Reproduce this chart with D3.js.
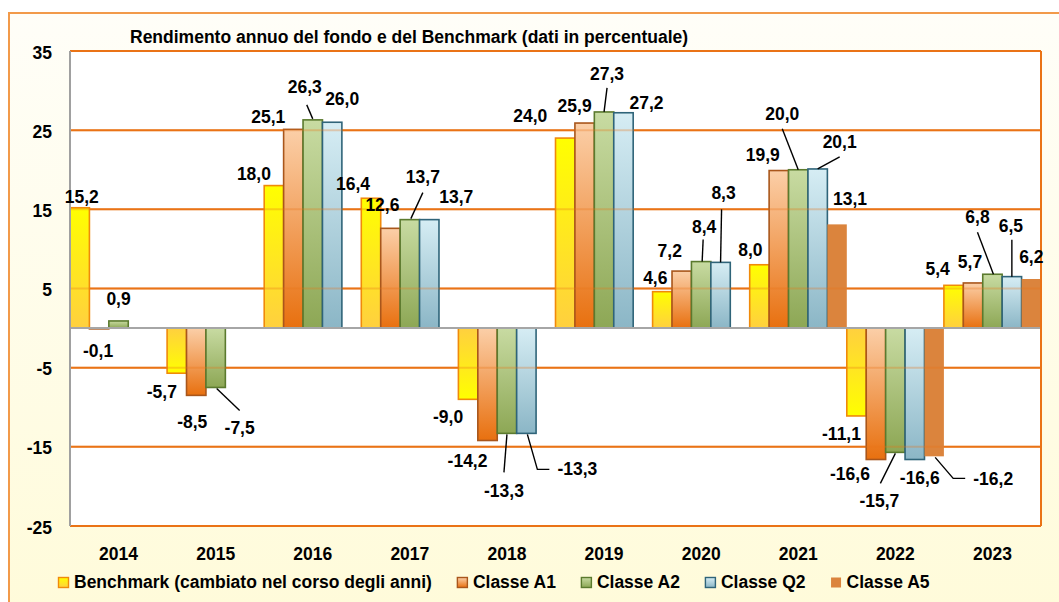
<!DOCTYPE html>
<html>
<head>
<meta charset="utf-8">
<script src="https://cdn.jsdelivr.net/npm/d3@7"></script>
<style>
  body { margin: 0; background: #ffffff; }
  svg text { font-family: "Liberation Sans", Arial, sans-serif; font-weight: bold; fill: #000; }
</style>
</head>
<body>
<div id="chart"></div>
<script>
// chart data
var years = ["2014", "2015", "2016", "2017", "2018", "2019", "2020", "2021", "2022", "2023"];
var benchmark = [15.2, -5.7, 18.0, 16.4, -9.0, 24.0, 4.6, 8.0, -11.1, 5.4];
var classeA1 = [-0.1, -8.5, 25.1, 12.6, -14.2, 25.9, 7.2, 19.9, -16.6, 5.7];
var classeA2 = [0.9, -7.5, 26.3, 13.7, -13.3, 27.3, 8.4, 20.0, -15.7, 6.8];
var classeQ2 = [null, null, 26.0, 13.7, -13.3, 27.2, 8.3, 20.1, -16.6, 6.5];
var classeA5 = [null, null, null, null, null, null, null, 13.1, -16.2, 6.2];
var seriesNames = ["Benchmark (cambiato nel corso degli anni)", "Classe A1", "Classe A2", "Classe Q2", "Classe A5"];
var yTicks = [-25, -15, -5, 5, 15, 25, 35];
var title = "Rendimento annuo del fondo e del Benchmark (dati in percentuale)";

var seriesValues = [benchmark, classeA1, classeA2, classeQ2, classeA5];

// manual label nudges (dx, dy from the bar end) and leader lines, like the moved labels in the original
var labelNudge = [
  [[2,-5],[-15,25],[-20,-6],[-18,-8],[-20,24],[-35,-16],[-7,-8],[-9,-9],[-15,24],[-16,-10]],
  [[-1,28],[-4,33],[-25,-6],[-8,-17],[-20,26],[-10,-11],[-12,-14],[-16,-10],[-26,20],[-3,-15]],
  [[0,-16],[24,47,[[1,1],[24,23]]],[-8,-27,[[0,-1],[-6,-15]]],[13,-37,[[1,-1],[13,-27]]],[-3,64,[[0,1],[-3,39]]],
   [3,-32,[[0,0],[3,-24]]],[3,-29,[[1,0],[2,-22]]],[-16,-50,[[0,0],[-16,-41]]],[-16,55,[[0,1],[-15,31]]],[-15,-51,[[1,0],[-15,-42]]]],
  [null,null,[10,-17],[27,-17],[51,42,[[1,1],[11,36],[23,36]]],[23,-4],[3,-63,[[0,0],[1,-53]]],[22,-21,[[0,0],[22,-12]]],[5,24],[-1,-45,[[0,0],[0,-37]]]],
  [null,null,null,null,null,null,null,[13,-19],[59,29,[[1,1],[19,22],[31,22]]],[0,-16]]
];

var W = 1059, H = 602;
var margin = { top: 51, right: 18, bottom: 76, left: 70 };
var width = W - margin.left - margin.right;
var height = H - margin.top - margin.bottom;

var locale = d3.formatLocale({ decimal: ",", thousands: ".", grouping: [3], currency: ["", "€"], minus: "-" });
var fmt = locale.format(".1f");
var fmtTick = locale.format("d");

var svg = d3.select("#chart").append("svg")
  .attr("width", W)
  .attr("height", H);

var defs = svg.append("defs");

function addGrad(id, c1, c2) {
  var g = defs.append("linearGradient").attr("id", id)
    .attr("x1", 0).attr("y1", 0).attr("x2", 0).attr("y2", 1);
  g.append("stop").attr("offset", "0%").attr("stop-color", c1);
  g.append("stop").attr("offset", "100%").attr("stop-color", c2);
}
addGrad("bg", "#fffef8", "#fffbd9");
addGrad("benchPos", "#ffff00", "#ffd03f");
addGrad("benchNeg", "#ffd03f", "#ffff00");
addGrad("a1", "#fbcfa8", "#e8700f");
addGrad("a2", "#c8dba2", "#8da755");
addGrad("q2", "#d6edf4", "#8bb6c6");

var strokes = ["#f08a0a", "#a9561b", "#5b7a2e", "#2f6479", "none"];
function fillFor(s, v) {
  if (s === 0) return v >= 0 ? "url(#benchPos)" : "url(#benchNeg)";
  if (s === 1) return "url(#a1)";
  if (s === 2) return "url(#a2)";
  if (s === 3) return "url(#q2)";
  return "#db843d";
}

// outer frame
svg.append("rect")
  .attr("x", 9).attr("y", 13)
  .attr("width", W + 10).attr("height", H + 10)
  .attr("fill", "url(#bg)")
  .attr("stroke", "#f29a4a")
  .attr("stroke-width", 2);

svg.append("text")
  .attr("x", 130).attr("y", 43)
  .style("font-size", "17.5px")
  .text(title);

var g = svg.append("g")
  .attr("transform", "translate(" + margin.left + "," + margin.top + ")");

// scales
var x0 = d3.scaleBand().domain(years).range([0, width]).padding(0);
var x1 = d3.scaleBand().domain(d3.range(5)).range([0, x0.bandwidth()]).padding(0);
var y = d3.scaleLinear().domain([-25, 35]).range([height, 0]);

g.append("rect")
  .attr("width", width).attr("height", height)
  .attr("fill", "#ffffff");

function drawGrid(op) {
  g.append("g").selectAll("line")
    .data(yTicks)
    .enter().append("line")
    .attr("x1", 0).attr("x2", width)
    .attr("y1", function (d) { return y(d); })
    .attr("y2", function (d) { return y(d); })
    .attr("stroke", "#ea7316")
    .attr("stroke-width", 2)
    .attr("opacity", op);
}
drawGrid(1);

// bars
var bars = [];
seriesValues.forEach(function (vals, s) {
  vals.forEach(function (v, i) {
    if (v === null) return;
    bars.push({ s: s, i: i, v: v });
  });
});

g.append("g").selectAll("rect")
  .data(bars)
  .enter().append("rect")
  .attr("x", function (d) { return x0(years[d.i]) + x1(d.s); })
  .attr("width", x1.bandwidth())
  .attr("y", function (d) { return Math.min(y(d.v), y(0)); })
  .attr("height", function (d) { return Math.abs(y(d.v) - y(0)); })
  .attr("fill", function (d) { return fillFor(d.s, d.v); })
  .attr("stroke", function (d) { return strokes[d.s]; })
  .attr("stroke-width", 1.6);

// gridlines show faintly through the bars
drawGrid(0.3);

// zero line and frame of the plot
g.append("line")
  .attr("x1", 0).attr("x2", width)
  .attr("y1", y(0)).attr("y2", y(0))
  .attr("stroke", "#a6a6a6").attr("stroke-width", 2);
g.append("line")
  .attr("x1", width).attr("x2", width)
  .attr("y1", 0).attr("y2", height)
  .attr("stroke", "#ea7316").attr("stroke-width", 2);
g.append("line")
  .attr("x1", 0).attr("x2", 0)
  .attr("y1", 0).attr("y2", height)
  .attr("stroke", "#a0a0a0").attr("stroke-width", 2);

// axes
var yAxis = g.append("g")
  .call(d3.axisLeft(y).tickValues(yTicks).tickSize(0).tickPadding(18).tickFormat(fmtTick));
yAxis.select(".domain").remove();
yAxis.selectAll("text")
  .attr("dy", "0.4em")
  .style("font-size", "17.5px");

var xAxis = g.append("g")
  .attr("transform", "translate(0," + height + ")")
  .call(d3.axisBottom(x0).tickSize(0));
xAxis.select(".domain").remove();
xAxis.selectAll("text")
  .attr("y", 34).attr("dy", null)
  .style("font-size", "17.5px");
yAxis.attr("font-family", null).attr("font-size", null);
xAxis.attr("font-family", null).attr("font-size", null);

// data labels
var labelG = g.append("g");
bars.forEach(function (d) {
  var n = labelNudge[d.s][d.i];
  var cx = x0(years[d.i]) + x1(d.s) + x1.bandwidth() / 2;
  var ey = y(d.v);
  if (n[2]) {
    var pts = n[2].map(function (p) { return [cx + p[0], ey + p[1]]; });
    labelG.append("path")
      .attr("d", d3.line()(pts))
      .attr("fill", "none")
      .attr("stroke", "#000")
      .attr("stroke-width", 1.4);
  }
  labelG.append("text")
    .attr("x", cx + n[0])
    .attr("y", ey + n[1])
    .attr("text-anchor", "middle")
    .style("font-size", "17.5px")
    .text(fmt(d.v));
});

// legend
var legend = svg.append("g").attr("transform", "translate(58,588)");
var lx = 0;
seriesNames.forEach(function (name, s) {
  legend.append("rect")
    .attr("x", lx + 0.5).attr("y", -10.5)
    .attr("width", 10).attr("height", 10)
    .attr("fill", fillFor(s, 1))
    .attr("stroke", strokes[s])
    .attr("stroke-width", 1.4);
  var t = legend.append("text")
    .attr("x", lx + 16).attr("y", 0)
    .style("font-size", "17.5px")
    .text(name);
  lx += 16 + t.node().getComputedTextLength() + 25;
});
</script>
</body>
</html>
